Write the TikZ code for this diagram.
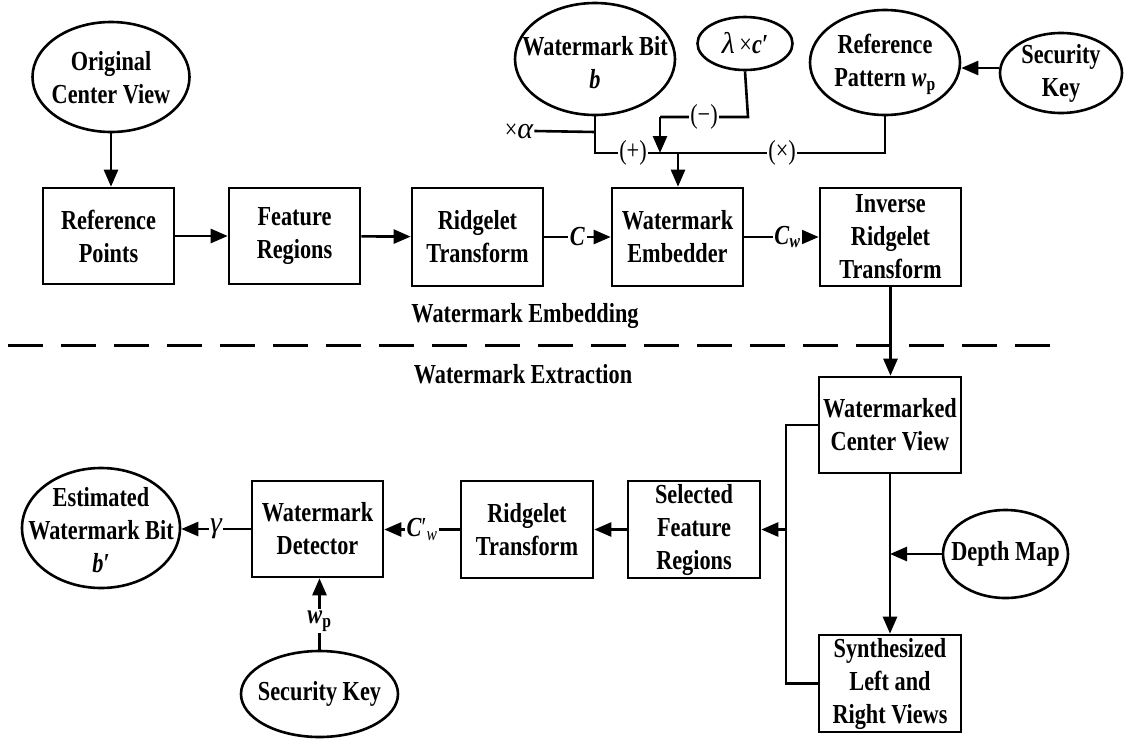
\documentclass[tikz,border=0pt]{standalone}
\usepackage{fontspec}
\setmainfont{Liberation Serif}[FakeStretch=0.81]
\newfontfamily\grk{Liberation Serif}
\newcommand{\gk}[1]{{\grk\fontsize{30}{33}\selectfont\mdseries\itshape #1}}
\usetikzlibrary{arrows.meta,shapes.geometric}

\begin{document}
\begin{tikzpicture}[x=1pt,y=-1pt,
  every node/.style={font=\fontsize{27.5}{33}\selectfont},
  box/.style={draw,line width=2.6pt,inner sep=0pt,align=center,
              font=\fontsize{27.5}{33}\selectfont\bfseries},
  oval/.style={draw,ellipse,line width=2.6pt,inner sep=0pt},
  txt/.style={align=center,inner sep=0pt,font=\fontsize{27.5}{33}\selectfont\bfseries},
  link/.style={line width=2.6pt},
  arr/.style={link,-{Triangle[length=17pt,width=14pt]}},
  tag/.style={fill=white,inner sep=1.5pt},
]
\useasboundingbox (0,0) rectangle (1125,742);

% ---------- embedding chain ----------
\node[oval,minimum width=157pt,minimum height=110pt] (ocv) at (111,77) {};
\node[txt] (ocvt) at (111,78) {Original\\Center View};

\node[box,minimum width=131pt,minimum height=96pt] (rp)  at (108.5,236) {Reference\\Points};
\node[box,minimum width=131pt,minimum height=96pt] (fr)  at (294.5,236) {Feature\\Regions};
\node[box,minimum width=131pt,minimum height=98pt] (rt)  at (477.5,237) {Ridgelet\\Transform};
\node[box,minimum width=131pt,minimum height=98pt] (we)  at (677.5,237) {Watermark\\Embedder};
\node[box,minimum width=141pt,minimum height=98pt] (irt) at (890.5,237) {Inverse\\Ridgelet\\Transform};

\node[oval,minimum width=160pt,minimum height=112pt] (bit) at (595,59) {};
\node[txt] (bitt) at (595,63) {Watermark Bit\\\textit{b}};
\node[oval,minimum width=95pt,minimum height=53pt] (lam) at (745,43.5) {};
\node[txt] (lamt) at (lam) {\gk{λ}\,{\mdseries ×}\textit{c′}};
\node[oval,minimum width=150pt,minimum height=105pt] (rpat) at (885,62.5) {};
\node[txt] (rpatt) at (885,64) {Reference\\Pattern \textit{w}\textsubscript{p}};
\node[oval,minimum width=122pt,minimum height=80pt] (sk1) at (1061,73) {};
\node[txt] (sk1t) at (sk1) {Security\\Key};

\draw[arr] (ocv.south) -- (ocv.south |- rp.north);
\draw[arr] (rp) -- (fr);
\draw[arr] (fr) -- (rt);
\draw[arr] (rt) -- node[tag] (clab) {\textbf{\textit{C}}} (we);
\draw[arr] (we) -- node[tag,pos=0.58] (cwlab) {\textbf{\textit{C}}\textsubscript{\textbf{\textit{w}}}} (irt);

% combining bus above the embedder
\coordinate (busL) at (595,153);
\coordinate (busR) at (885,153);
\coordinate (busIn) at (660,153);
\coordinate (busOut) at (678,153);
\coordinate (alphaJ) at (595,132);
\coordinate (lamBend) at (748,117);
\coordinate (lamIn) at (660,117);

\draw[link] (bit.south) -- (busL) -- node[tag,pos=0.131] (plus) {(+)}
  node[tag,pos=0.645] (times) {(×)} (busR) -- (rpat.south);
\node[inner sep=1pt] (alpha) at (519,131) {×\gk{α}};
\draw[link] (alpha.east) -- (alphaJ);
\draw[link] (lam.south) -- (lamBend) -- node[tag] (minus) {(−)} (lamIn);
\draw[arr] (lamIn) -- (busIn);
\draw[arr] (busOut) -- (busOut |- we.north);
\draw[arr] (sk1.west |- 0,68) -- (rpat.east |- 0,68);

% ---------- separator ----------
\coordinate (sepL) at (8,345);
\coordinate (sepR) at (1052,345);
\draw[line width=3pt,dash pattern=on 35pt off 18pt] (sepL) -- (sepR);
\node[txt,anchor=base] (emb) at (525,322) {Watermark Embedding};
\node[txt,anchor=base] (ext) at (523,383) {Watermark Extraction};

% ---------- extraction chain ----------
\node[box,minimum width=142pt,minimum height=96pt] (wcv) at (890,425) {Watermarked\\Center View};
\node[box,minimum width=142pt,minimum height=97pt] (syn) at (890,683.5) {Synthesized\\Left and\\Right Views};
\node[oval,minimum width=125pt,minimum height=88pt] (dm) at (1005.5,554) {};
\node[txt] (dmt) at (dm) {Depth Map};
\node[box,minimum width=132pt,minimum height=97pt] (sfr) at (694,529.5) {Selected\\Feature\\Regions};
\node[box,minimum width=132pt,minimum height=97pt] (rt2) at (527,529.5) {Ridgelet\\Transform};
\node[box,minimum width=131pt,minimum height=96pt] (det) at (317.5,529) {Watermark\\Detector};
\node[oval,minimum width=158pt,minimum height=120pt] (est) at (101,528) {};
\node[txt] (estt) at (101,530) {Estimated\\Watermark Bit\\\textit{b′}};
\node[oval,minimum width=157pt,minimum height=86pt] (sk2) at (319.5,694) {};
\node[txt] (sk2t) at (sk2) {Security Key};

\draw[arr] (irt.south) -- (irt.south |- wcv.north);
\draw[arr] (wcv.south) -- (wcv.south |- syn.north);
\draw[arr] (dm.west) -- (dm.west -| wcv.south);

\coordinate (brT) at (786,425);
\coordinate (brB) at (786,683.5);
\coordinate (brM) at (786,529.5);
\draw[link] (wcv.west) -- (brT) -- (brB) -- (syn.west);
\draw[arr] (brM) -- (sfr.east);
\draw[arr] (sfr) -- (rt2);
\draw[arr] (rt2) -- node[tag] (cpw) {\textbf{\textit{C}}′\textsubscript{\textit{w}}} (det.east |- rt2);
\draw[arr] (det) -- node[tag] (gam) {\gk{γ}} (est.east |- det);
\draw[arr] (sk2.north) -- node[tag,pos=0.4,inner sep=2pt] (wp) {\textbf{\textit{w}}\textsubscript{\textbf{p}}} (sk2.north |- det.south);
\end{tikzpicture}
\end{document}
